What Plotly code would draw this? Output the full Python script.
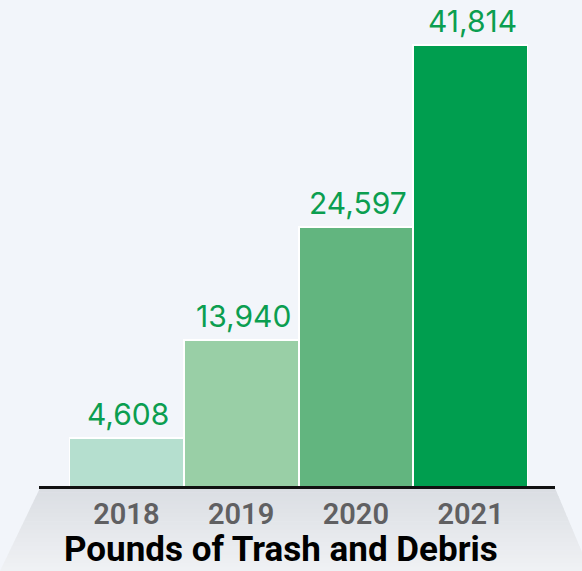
import plotly.graph_objects as go

years = ["2018", "2019", "2020", "2021"]
pounds = [4608, 13940, 24597, 41814]
bar_colors = ["#b5dfcf", "#99cfa6", "#62b57f", "#009e4f"]
title_text = "Pounds of Trash and Debris"

W, H = 582, 571
ML, MR, MT, MB = 69, 54, 0, 84
PW, PH = W - ML - MR, H - MT - MB

def px(x):
    return (x - ML) / PW

def py(y):
    return (H - MB - y) / PH

fig = go.Figure()
fig.add_trace(go.Bar(
    x=years, y=pounds,
    marker=dict(color=bar_colors, line=dict(color="white", width=2)),
    width=1,
    cliponaxis=False,
    hoverinfo="skip",
))

annotations = []
for i, v in enumerate(pounds):
    annotations.append(dict(x=i, y=v, xref="x", yref="y", text=f"{v:,}",
                            showarrow=False, yanchor="bottom", xanchor="center",
                            yshift=4, xshift=2,
                            font=dict(family="Inter", size=30, color="#0b9e50")))
annotations.append(dict(text=f"<b>{title_text}</b>", x=px(281), y=py(549),
                        xref="paper", yref="paper", showarrow=False,
                        font=dict(family="Roboto", size=35, color="#000000"),
                        xanchor="center", yanchor="middle"))

shapes = []
n = 20
top, bot = 488, 571
c0 = (0xdb, 0xde, 0xe3)
c1 = (0xef, 0xf1, 0xf4)
for i in range(n):
    ya = top + (bot - top) * i / n
    yb = top + (bot - top) * (i + 1) / n + 0.6
    def lx(y):
        return 40 - 40 * (y - top) / (bot - top)
    def rx(y):
        return 555 + 35 * (y - top) / (bot - top)
    t = i / (n - 1)
    col = "rgb(%d,%d,%d)" % tuple(round(c0[k] + (c1[k] - c0[k]) * t) for k in range(3))
    path = "M %f %f L %f %f L %f %f L %f %f Z" % (
        px(lx(ya)), py(ya), px(rx(ya)), py(ya), px(rx(yb)), py(yb), px(lx(yb)), py(yb))
    shapes.append(dict(type="path", xref="paper", yref="paper", path=path,
                       fillcolor=col, line=dict(width=0), layer="below"))
shapes.append(dict(type="line", xref="paper", yref="paper",
                   x0=px(39), x1=px(555), y0=py(487.5), y1=py(487.5),
                   line=dict(color="#111111", width=3), layer="above"))

fig.update_layout(
    width=W, height=H,
    margin=dict(l=ML, r=MR, t=MT, b=MB),
    paper_bgcolor="#f2f5fa",
    plot_bgcolor="rgba(0,0,0,0)",
    showlegend=False,
    bargap=0,
    shapes=shapes,
    annotations=annotations,
    xaxis=dict(type="category", range=[-0.5, 3.5], showgrid=False, zeroline=False, showline=False,
               ticks="", tickfont=dict(family="Roboto", size=29, color="#606062", weight=600),
               ticklabelstandoff=7),
    yaxis=dict(range=[0, 46100], visible=False, showgrid=False, zeroline=False),
)

fig.write_html("out.html")
